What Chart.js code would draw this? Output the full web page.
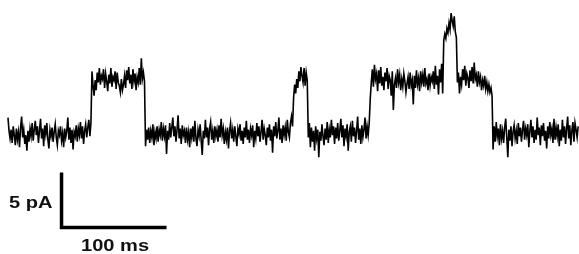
<!DOCTYPE html>
<html>
<head>
<meta charset="utf-8">
<script src="https://cdn.jsdelivr.net/npm/chart.js@4/dist/chart.umd.min.js"></script>
<style>
  body { margin: 0; background: #fff; }
  canvas { display: block; }
</style>
</head>
<body>
<canvas id="trace" width="579" height="254"></canvas>
<script>
// single-channel current, one sample per ms, in pA above the closed level
const SAMPLE_MS = 1;

const closed1 = [
  1.4, 0.2, -0.5, 0.3, -0.9, 0.6, -0.2, -1.1, 0.4, -0.6,
  0.1, -1.3, 0.5, 1.5, -0.4, 0.3, -1.0, -0.2, -1.6, 0.2,
  -0.8, 0.4, -0.3, 0.9, -0.7, 0.3, 1.1, -0.2, 0.6, -0.9,
  0.2, 1.3, -0.5, 0.4, -1.2, 0.7, -0.1, 0.9, -0.6, -1.4,
  0.3, -0.3, 0.5, -0.8, 0.1, 0.8, -0.4, -1.1, 0.2, -0.2,
  0.6, -0.7, 0.0, -1.3, 0.4, -0.4, 0.2, 1.4, -0.6, 0.5,
  -0.9, 0.3, -1.5, 0.1, -0.3, 0.7, -0.8, 0.4, -0.2, 1.0,
  -0.5, 0.6, -1.0, 0.2, 0.8, -0.4, 0.5, 1.2, -0.3, 0.9
];
const open1 = [
  5.6, 4.3, 3.4, 4.8, 3.9, 5.5, 4.6, 5.9, 4.4, 5.2,
  4.9, 5.8, 4.1, 5.4, 4.7, 3.8, 5.3, 4.5, 5.9, 4.2,
  5.1, 4.8, 5.6, 4.0, 5.5, 4.6, 4.3, 3.7, 4.9, 3.9,
  4.4, 5.2, 4.1, 5.7, 4.8, 6.0, 4.5, 5.3, 4.0, 5.8,
  4.7, 5.4, 3.9, 5.1, 4.6, 5.9, 4.4, 6.8, 4.9, 5.5,
  4.7
];
const closed2 = [
  -1.2, 0.3, -0.6, 0.5, -0.9, 0.2, -0.4, 0.8, -1.1, 0.1,
  -0.5, 0.6, -0.8, 0.3, -0.2, 1.0, -0.7, 0.4, -0.3, 0.7,
  -1.9, 0.2, -0.6, 0.9, -0.4, 0.5, 1.4, -0.3, 0.6, -0.8,
  0.3, 1.6, -0.5, 0.4, -1.0, 0.7, -0.2, 0.2, -0.9, 0.5,
  -0.6, 0.1, -1.3, 0.4, -0.4, 0.6, -0.8, 1.1, -0.5, -1.2,
  0.3, -0.3, 0.8, -0.7, -2.0, 0.2, -0.5, 1.2, -0.4, 0.5,
  -1.1, 0.4, 1.0, -0.6, 0.2, -0.9, 0.6, -0.3, 0.3, -0.8,
  0.7, -0.4, 1.3, -0.2, 0.4, -1.0, 0.1, -0.6, 0.5, -1.4,
  0.2, 0.9, -0.5, 0.3, -0.8, 0.6, -0.3, -1.2, 0.4, -0.1,
  0.8, -0.7, 0.2, -1.0, 0.5, -0.4, 1.1, -0.6, 0.3, -0.9,
  0.4, -0.2, 0.7, -1.3, 0.2, -0.5, 0.9, -0.3, 0.6, -0.8,
  0.1, 1.2, -0.6, 0.4, -0.2, -1.1, 0.5, -0.4, 0.8, -0.7,
  0.3, -1.8, 0.6, -0.3, 1.0, -0.5, 0.2, 1.4, -0.6, 0.4,
  -0.9, 0.7, -0.2, 0.5, -0.7, 1.2, 0.1, -0.4, 0.9, 1.5,
  0.6
];
const open2 = [3.2, 4.4, 3.6, 4.9, 4.1, 5.6, 4.7, 6.0, 5.2, 4.6, 5.9, 4.3, 5.5, 4.8];
const closed3 = [
  -0.4, 0.9, -1.3, 0.5, -0.8, 0.2, -1.6, 0.6, -0.5, 0.3,
  -2.2, 0.1, -0.7, 0.8, -0.3, -1.1, 0.4, -0.6, 1.0, -0.9,
  0.3, -0.4, 1.2, -0.2, 0.6, -1.0, 0.5, -0.5, 0.9, -0.7,
  0.2, 1.3, -0.4, 0.7, -1.2, 0.4, -0.3, 0.8, -1.6, 0.1,
  0.6, -0.8, 1.1, -0.3, 0.5, -0.9, 0.2, 1.5, -0.6, 0.4,
  -1.0, 0.7, -0.4, 0.3, 1.4, -0.5, 0.6, -0.2, 0.9
];
const open3 = [
  3.1, 4.6, 5.8, 4.2, 6.2, 4.9, 5.4, 3.8, 5.7, 4.5,
  6.0, 4.3, 5.1, 3.9, 5.5, 4.7, 5.9, 4.0, 5.2, 4.8,
  3.4, 5.6, 2.1, 4.4, 5.0, 4.1, 5.8, 4.6, 5.3, 3.9,
  4.9, 4.2, 5.4, 4.7, 3.7, 4.5, 5.1, 4.0, 5.5, 4.3,
  4.8, 2.6, 5.2, 4.1, 5.7, 4.4, 5.0, 3.8, 5.6, 4.6,
  5.3, 4.2, 5.9, 4.5, 4.9, 3.9, 5.4, 4.3, 5.1, 4.7,
  5.6, 4.0, 6.1, 4.4, 5.2, 3.5, 5.8, 4.6, 6.3, 3.6
];
const doubleOpen = [8.4, 9.0, 8.6, 9.5, 9.1, 10.0, 9.4, 10.9, 10.2, 9.7, 10.6, 9.2, 8.7];
const open4 = [
  4.6, 5.5, 3.6, 5.1, 4.4, 5.8, 4.8, 6.1, 4.3, 5.4,
  5.0, 4.1, 5.7, 4.7, 6.0, 4.5, 6.4, 4.9, 5.3, 4.2,
  5.6, 4.6, 5.1, 3.9, 4.8, 4.3, 5.2, 4.0, 4.6, 3.8,
  4.4, 3.7, 4.1, 3.4
];
const closed4 = [
  -1.5, 0.6, -0.8, 1.0, -0.3, 0.4, -1.1, 0.8, -0.5, 0.2,
  -0.9, 0.5, 1.3, -0.4, -2.2, 0.3, -0.7, 0.6, -1.2, 0.1,
  0.7, -0.5, 0.2, -1.0, 0.9, -0.3, 0.5, -0.8, 0.3, 1.1,
  -0.6, 0.4, -0.2, 0.8, -1.3, 0.2, 1.2, -0.4, 0.6, -0.9,
  0.3, -0.6, 1.4, -0.2, 0.5, -1.1, 0.7, -0.3, 0.9, -0.7,
  0.2, -1.4, 0.6, -0.5, 1.0, -0.2, 0.4, -0.9, 1.3, -0.6,
  0.5, -0.3, 0.8, -1.2, 0.3, -0.7, 1.2, -0.4, 0.6, -1.0,
  0.4, 1.5, -0.5, 0.7, -1.1, 0.2, 1.0, -0.8, 0.9, 0.3,
  -0.4, 0.6
];

// scale bar: 5 pA by 100 ms, corner placed in data units
const SCALE_PA = 5;
const SCALE_MS = 100;
const barCorner = { t: 51, pA: -8.6 };

const current = [].concat(closed1, open1, closed2, open2, closed3, open3, doubleOpen, open4, closed4);
const tracePoints = current.map((v, i) => ({ x: i * SAMPLE_MS, y: v }));
const barPoints = [
  { x: barCorner.t, y: barCorner.pA + SCALE_PA },
  { x: barCorner.t, y: barCorner.pA },
  { x: barCorner.t + SCALE_MS, y: barCorner.pA },
];

const barLabels = {
  id: 'barLabels',
  afterDraw(chart) {
    const { ctx, scales: { x, y } } = chart;
    const left = x.getPixelForValue(barCorner.t);
    const right = x.getPixelForValue(barCorner.t + SCALE_MS);
    const top = y.getPixelForValue(barCorner.pA + SCALE_PA);
    const bottom = y.getPixelForValue(barCorner.pA);
    const stretch = 1.18;

    ctx.save();
    ctx.fillStyle = '#111';
    ctx.font = 'bold 17px "Liberation Sans", Arial, sans-serif';
    ctx.textBaseline = 'alphabetic';

    ctx.save();
    ctx.translate(left - 9, (top + bottom) / 2 + 7.5);
    ctx.scale(stretch, 1);
    ctx.textAlign = 'right';
    ctx.fillText(SCALE_PA + ' pA', 0, 0);
    ctx.restore();

    ctx.save();
    ctx.translate((left + right) / 2 + 1, bottom + 23);
    ctx.scale(stretch, 1);
    ctx.textAlign = 'center';
    ctx.fillText(SCALE_MS + ' ms', 0, 0);
    ctx.restore();

    ctx.restore();
  }
};

new Chart(document.getElementById('trace'), {
  type: 'line',
  data: {
    datasets: [
      {
        data: tracePoints,
        borderColor: '#000',
        borderWidth: 1.6,
        pointRadius: 0,
        tension: 0,
        fill: false,
      },
      {
        data: barPoints,
        borderColor: '#000',
        borderWidth: 3.5,
        borderJoinStyle: 'miter',
        borderCapStyle: 'butt',
        pointRadius: 0,
        tension: 0,
        fill: false,
      },
    ],
  },
  options: {
    responsive: false,
    animation: false,
    events: [],
    layout: { padding: 0 },
    plugins: {
      legend: { display: false },
      tooltip: { enabled: false },
    },
    scales: {
      x: { type: 'linear', min: -7.6, max: 543.8, display: false },
      y: { type: 'linear', min: -11.0, max: 12.09, display: false },
    },
  },
  plugins: [barLabels],
});
</script>
</body>
</html>
